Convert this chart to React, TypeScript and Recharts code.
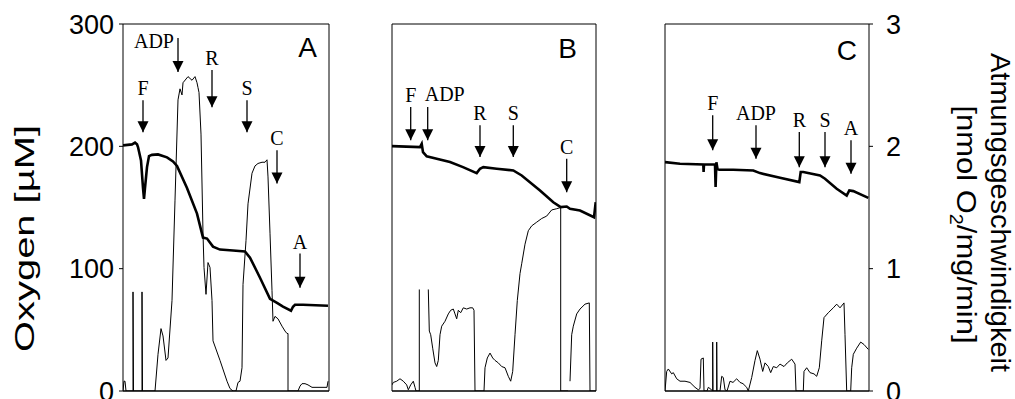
import React from 'react';
import { LineChart, Line, XAxis, YAxis, ReferenceLine, ReferenceDot } from 'recharts';

type Pt = [number, number | null];

// x = time offset inside each trace, O2 in µM, rate in nmol O2/mg/min
const oxygenA: Pt[] = [
  [0, 200.8], [9, 201.6], [12, 203], [14, 201.6], [15, 199.4], [18, 188.5], [20, 166], [21, 157],
  [22, 166], [24, 183], [26, 192], [29, 193], [35, 193.4], [44, 191], [50, 187.7], [54, 184],
  [64, 166], [74, 145], [80, 125.4], [84, 124.6], [90, 118], [97, 115.6], [110, 114.8], [122, 114],
  [127, 109], [137, 92.6], [147, 75.4], [154, 72], [160, 68.9], [168, 65.6], [170, 68.9], [172, 70.5],
  [180, 70.5], [205, 69.7],
];
const rateA: Pt[] = [
  [0, 0], [1, 0.08], [2, 0.08], [3, 0], [10, 0], [10, 0.81], [10.5, 0], [19, 0], [19, 0.81], [19.5, 0],
  [32, 0], [35, 0.3], [38, 0.51], [40, 0.45], [43, 0.25], [45, 0.27], [49, 0.74], [52, 1.56],
  [55, 2.38], [57, 2.47], [59, 2.42], [60, 2.52], [65, 2.57], [69, 2.54], [72, 2.57], [74, 2.52],
  [75, 2.48], [76, 2.44], [78, 2.1], [80, 1.29], [81, 1.01], [83, 0.79], [85, 1.05], [87, 1.01],
  [89, 0.74], [90, 0.41], [97, 0.25], [104, 0.08], [107, 0.02], [110, 0], [113, 0], [115, 0.07],
  [117, 0.08], [119, 0.19], [120, 0.87], [123, 1.23], [125, 1.53], [129, 1.78], [132, 1.84],
  [135, 1.86], [139, 1.87], [142, 1.87], [144, 1.89], [145, 1.75], [147, 1.29], [149, 0.82],
  [150, 0.57], [152, 0.61], [155, 0.59], [159, 0.53], [162, 0.49], [164, 0.47], [165, 0.47],
  [165, 0], [175, 0], [177, 0.04], [179, 0.06], [182, 0.06], [185, 0.05], [189, 0.03], [194, 0.03],
  [199, 0.03], [204, 0.03], [205, 0.08],
];

const oxygenB: Pt[] = [
  [0, 200.2], [28, 199.4], [29.7, 202], [31, 195.3], [34.7, 191.8], [44.7, 189.9], [58, 187.1],
  [71, 183], [84.7, 178.1], [88, 181.7], [91.3, 183], [104.7, 181.7], [121.3, 180.3], [129.7, 176.2],
  [148, 163.9], [161.3, 154.3], [168.7, 150.3], [174.7, 150.8], [178, 148.9], [188, 147.5],
  [202, 142], [203.7, 154.3],
];
const rateB: Pt[] = [
  [0, 0.05], [1.3, 0.07], [4.7, 0.08], [8, 0.1], [11.3, 0.08], [14.7, 0.05], [16.3, 0.01],
  [18.7, 0.05], [21.3, 0.08], [23, 0.03], [24, 0], [27.3, 0], [27.3, 0.83], [32, null],
  [36.3, 0.83], [37.3, 0.49], [38.7, 0.46], [40.7, 0.35], [43, 0.23], [44.7, 0.2], [46.3, 0.25],
  [48, 0.46], [49.7, 0.53], [53, 0.57], [56.3, 0.63], [58.7, 0.66], [61.3, 0.67], [63, 0.63],
  [64.7, 0.59], [66.3, 0.66], [68.7, 0.64], [71.3, 0.68], [74.7, 0.67], [78, 0.68], [80.7, 0.68],
  [82, 0.66], [83, 0], [92, 0], [93, 0.19], [95.3, 0.27], [98, 0.31], [100.7, 0.27], [103, 0.25],
  [106.3, 0.23], [109.7, 0.2], [113, 0.19], [116.3, 0.12], [118.7, 0.08], [120.7, 0.16], [123, 0.46],
  [125.3, 0.74], [128, 0.96], [129.7, 1.04], [133, 1.2], [136.3, 1.31], [139.7, 1.35], [144.7, 1.38],
  [149.7, 1.41], [154.7, 1.43], [159.7, 1.48], [164.7, 1.49], [168.7, 1.5], [168.7, 0], [176, 0],
  [177, null], [178, 0.08], [179.7, 0.46], [181.3, 0.53], [184.7, 0.63], [188, 0.67], [193, 0.71],
  [197.3, 0.72], [198, 0], [204, 0],
];

const oxygenC: Pt[] = [
  [0, 187.1], [15, 185.8], [38.3, 185.2], [38.6, 179], [39, 185.2], [50, 185.2], [50.6, 166.7],
  [51.4, 187], [52.5, 181.5], [54.3, 180.9], [68.3, 180.9], [88.3, 180.3], [95, 178.1], [115, 174.3],
  [134.3, 170.8], [135.7, 179], [138.3, 179], [155, 176.2], [160, 173.5], [171.7, 165.3],
  [181.7, 159.8], [184.3, 163.9], [188.3, 163.4], [203.3, 157.9],
];
const rateC: Pt[] = [
  [0, 0], [1.7, 0.16], [3.3, 0.18], [6.7, 0.14], [8.3, 0.15], [11.7, 0.1], [15, 0.08], [20, 0.08],
  [25, 0.07], [30, 0.03], [33.3, 0.01], [35, 0.02], [36, 0.26], [38.3, 0.27], [39, 0], [42, 0],
  [43.3, 0.03], [45, 0.02], [47.7, 0], [47.7, 0.4], [48, 0], [51.7, 0], [51.7, 0.4], [52, 0], [55, 0],
  [56.7, 0.12], [58.3, 0.11], [60, 0.01], [62, 0], [65, 0.08], [68, 0.07], [71.7, 0.1], [75, 0.07],
  [78, 0.06], [81.7, 0.03], [83.3, 0], [86.7, 0.11], [90, 0.25], [92.3, 0.33], [95, 0.26],
  [97.7, 0.16], [100, 0.23], [103.3, 0.2], [105.7, 0.15], [108.3, 0.2], [111.7, 0.19], [115, 0.22],
  [119, 0.2], [122.3, 0.23], [126.7, 0.26], [130, 0.22], [131, 0], [138.3, 0], [139, 0.16],
  [141.7, 0.19], [145, 0.15], [149, 0.14], [151.7, 0.12], [154.3, 0.19], [156.7, 0.41], [159, 0.6],
  [163.3, 0.64], [168.3, 0.68], [171.7, 0.71], [175, 0.68], [179, 0.72], [180, 0.46], [181.7, 0],
  [185.7, 0], [186.7, 0.19], [188.3, 0.3], [191.7, 0.35], [195.7, 0.4], [199, 0.38], [203.3, 0.34],
];

interface Arrow { label: string; t: number; top: number; tip: number }

// additions: arrow from "top" down to "tip" (O2 scale)
const arrowsA: Arrow[] = [
  { label: 'F', t: 20, top: 237.7, tip: 211.5 },
  { label: 'ADP', t: 55, top: 288.5, tip: 260.7 },
  { label: 'R', t: 89, top: 262.3, tip: 232 },
  { label: 'S', t: 124, top: 237.7, tip: 211.5 },
  { label: 'C', t: 154, top: 196.7, tip: 169.7 },
  { label: 'A', t: 177, top: 112.3, tip: 84.4 },
];
const arrowsB: Arrow[] = [
  { label: 'F', t: 18.7, top: 232.2, tip: 204.9 },
  { label: 'ADP', t: 35.7, top: 232.2, tip: 204.9 },
  { label: 'R', t: 88, top: 217.2, tip: 191.2 },
  { label: 'S', t: 121.3, top: 217.2, tip: 191.2 },
  { label: 'C', t: 174.7, top: 189.9, tip: 162.5 },
];
const arrowsC: Arrow[] = [
  { label: 'F', t: 47.7, top: 225.4, tip: 196.7 },
  { label: 'ADP', t: 91, top: 217.2, tip: 189.9 },
  { label: 'R', t: 134.3, top: 211.7, tip: 183 },
  { label: 'S', t: 160, top: 211.7, tip: 183 },
  { label: 'A', t: 186, top: 204.9, tip: 177.6 },
];

const O2_TICKS = [0, 100, 200, 300];
const RATE_TICKS = [0, 1, 2, 3];
const ticksA = [47, 92, 137.5, 184];
const ticksB = [16, 49, 81, 114, 146, 179];
const ticksC = [46.5, 93, 139.5, 186];

const SANS = '"Liberation Sans", Arial, Helvetica, sans-serif';
const SERIF = '"Liberation Serif", "Times New Roman", serif';

const toRows = (pts: Pt[]) => pts.map(([t, v]) => ({ t, v }));

const ArrowHead = (props: any) => {
  const { cx, cy } = props;
  return <polygon points={`${cx - 5.5},${cy - 11} ${cx + 5.5},${cy - 11} ${cx},${cy}`} fill="#000" />;
};

const makeArrowLabel = (text: string, dx: number, dy: number, anchor: string) => (props: any) => {
  const { cx, cy } = props;
  return (
    <text x={cx + dx} y={cy + dy} textAnchor={anchor} fontFamily={SERIF} fontSize={20} fill="#000">
      {text}
    </text>
  );
};

const makeLetter = (text: string, dx: number, dy: number) => (props: any) => {
  const { cx, cy } = props;
  return (
    <text x={cx + dx} y={cy + dy} textAnchor="end" fontFamily={SANS} fontSize={28} fill="#000">
      {text}
    </text>
  );
};

const OxygenTitle = (props: any) => {
  const { viewBox } = props;
  const x = viewBox.x + 24;
  const y = viewBox.y + viewBox.height / 2 + 31;
  return (
    <text x={x} y={y} transform={`rotate(-90, ${x}, ${y})`} textAnchor="middle" dominantBaseline="central"
      fontFamily={SANS} fontSize={28} fill="#000" textLength={227} lengthAdjust="spacingAndGlyphs">
      Oxygen [µM]
    </text>
  );
};

const RateTitle = (props: any) => {
  const { viewBox } = props;
  const x1 = viewBox.x + 131;
  const y1 = viewBox.y + viewBox.height / 2 + 5;
  const x2 = viewBox.x + 97;
  const y2 = viewBox.y + viewBox.height / 2 + 17;
  return (
    <g fontFamily={SANS} fontSize={28} fill="#000">
      <text x={x1} y={y1} transform={`rotate(90, ${x1}, ${y1})`} textAnchor="middle" dominantBaseline="central"
        textLength={319} lengthAdjust="spacingAndGlyphs">
        Atmungsgeschwindigkeit
      </text>
      <text x={x2} y={y2} transform={`rotate(90, ${x2}, ${y2})`} textAnchor="middle" dominantBaseline="central"
        textLength={238} lengthAdjust="spacingAndGlyphs">
        [nmol O<tspan baselineShift="sub" fontSize={18}>2</tspan>/mg/min]
      </text>
    </g>
  );
};

interface PanelProps {
  left: number;
  leftAxisW: number;
  rightAxisW: number;
  span: number;
  oxygen: Pt[];
  rate: Pt[];
  arrows: Arrow[];
  xTicks: number[];
  letter: string;
  letterOffset: [number, number];
  labelOffsets: Record<string, [number, number, string]>;
  showLeft?: boolean;
  showRight?: boolean;
}

const tickStyle = { fill: '#000', fontSize: 27, fontFamily: SANS };

const Panel: React.FC<PanelProps> = ({
  left, leftAxisW, rightAxisW, span, oxygen, rate, arrows, xTicks, letter, letterOffset, labelOffsets, showLeft, showRight,
}) => {
  const width = leftAxisW + span + rightAxisW;
  return (
    <div style={{ position: 'absolute', left, top: 0, width, height: 399 }}>
      <LineChart width={width} height={399} margin={{ top: 24, right: 0, bottom: 8, left: 0 }}
        style={{ overflow: 'visible' }}>
        <XAxis xAxisId="x" type="number" dataKey="t" domain={[0, span]} ticks={xTicks} allowDataOverflow
          interval={0} mirror height={1} tick={false} tickSize={4} axisLine={{ stroke: '#000' }}
          tickLine={{ stroke: '#000' }} />
        <YAxis yAxisId="o2" orientation="left" type="number" domain={[0, 300]} ticks={O2_TICKS} allowDataOverflow
          interval={0} width={leftAxisW} tickSize={4} tickMargin={5} tick={showLeft ? tickStyle : false}
          axisLine={{ stroke: '#000' }} tickLine={{ stroke: '#000' }}
          label={showLeft ? <OxygenTitle /> : undefined} />
        <YAxis yAxisId="rate" orientation="right" type="number" domain={[0, 3]} ticks={RATE_TICKS} allowDataOverflow
          interval={0} width={rightAxisW} tickSize={4} tickMargin={13} tick={showRight ? tickStyle : false}
          axisLine={{ stroke: '#000' }} tickLine={{ stroke: '#000' }}
          label={showRight ? <RateTitle /> : undefined} />
        <ReferenceLine xAxisId="x" yAxisId="o2" y={300} stroke="#000" strokeWidth={1} />
        <ReferenceLine xAxisId="x" yAxisId="o2" y={0} stroke="#000" strokeWidth={1} />
        <Line xAxisId="x" yAxisId="rate" data={toRows(rate)} dataKey="v" type="linear" stroke="#000"
          strokeWidth={1} dot={false} activeDot={false} isAnimationActive={false} />
        <Line xAxisId="x" yAxisId="o2" data={toRows(oxygen)} dataKey="v" type="linear" stroke="#000"
          strokeWidth={2.6} dot={false} activeDot={false} isAnimationActive={false} />
        {arrows.map((a) => {
          const [dx, dy, anchor] = labelOffsets[a.label] || [0, -5, 'middle'];
          return (
            <React.Fragment key={a.label}>
              <ReferenceLine xAxisId="x" yAxisId="o2" segment={[{ x: a.t, y: a.top }, { x: a.t, y: a.tip }]}
                stroke="#000" strokeWidth={1.3} />
              <ReferenceDot xAxisId="x" yAxisId="o2" x={a.t} y={a.tip} r={0} shape={ArrowHead} />
              <ReferenceDot xAxisId="x" yAxisId="o2" x={a.t} y={a.top} r={0}
                shape={makeArrowLabel(a.label, dx, dy, anchor)} />
            </React.Fragment>
          );
        })}
        <ReferenceDot xAxisId="x" yAxisId="o2" x={span} y={300} r={0}
          shape={makeLetter(letter, letterOffset[0], letterOffset[1])} />
      </LineChart>
    </div>
  );
};

export default function App() {
  return (
    <div style={{ position: 'absolute', left: 0, top: 0, width: 1015, height: 399, background: '#fff', overflow: 'hidden' }}>
      <Panel left={0} leftAxisW={123} rightAxisW={10} span={206} oxygen={oxygenA} rate={rateA} arrows={arrowsA}
        xTicks={ticksA} letter="A" letterOffset={[-12, 33]} labelOffsets={{ ADP: [-4, 10, 'end'] }} showLeft />
      <Panel left={382} leftAxisW={10} rightAxisW={10} span={204} oxygen={oxygenB} rate={rateB} arrows={arrowsB}
        xTicks={ticksB} letter="B" letterOffset={[-19, 34]} labelOffsets={{ ADP: [17, -6, 'middle'] }} />
      <Panel left={655} leftAxisW={10} rightAxisW={146} span={204} oxygen={oxygenC} rate={rateC} arrows={arrowsC}
        xTicks={ticksC} letter="C" letterOffset={[-12, 36]} labelOffsets={{}} showRight />
    </div>
  );
}
